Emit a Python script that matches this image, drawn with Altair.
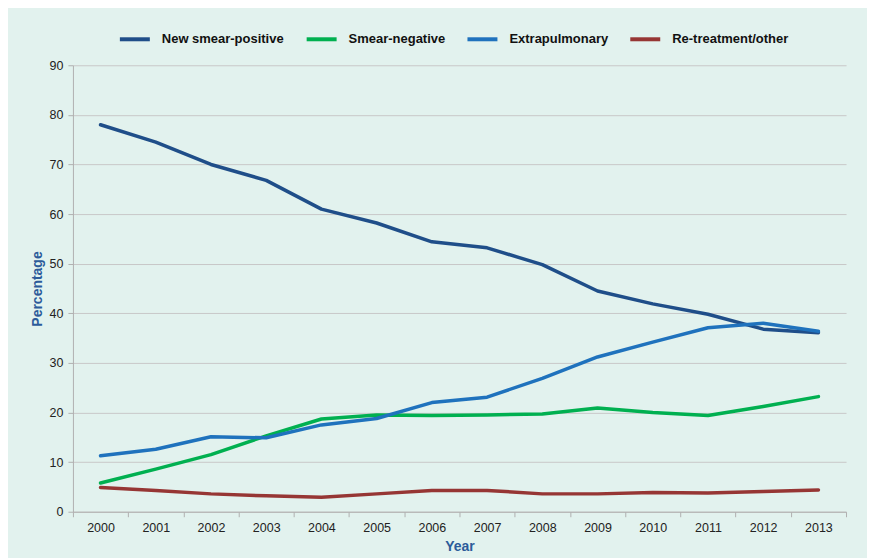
import altair as alt
import pandas as pd

years = [2000, 2001, 2002, 2003, 2004, 2005, 2006, 2007, 2008, 2009, 2010, 2011, 2012, 2013]
series_names = ["New smear-positive", "Smear-negative", "Extrapulmonary", "Re-treatment/other"]
new_smear_positive = [78.0, 74.5, 70.0, 66.8, 61.0, 58.2, 54.4, 53.2, 49.8, 44.5, 41.9, 39.8, 36.8, 36.1]
smear_negative = [5.8, 8.6, 11.5, 15.3, 18.7, 19.5, 19.4, 19.5, 19.7, 20.9, 20.0, 19.4, 21.2, 23.2]
extrapulmonary = [11.3, 12.6, 15.1, 14.9, 17.5, 18.8, 22.0, 23.1, 26.9, 31.2, 34.2, 37.1, 38.0, 36.4]
retreatment = [4.9, 4.3, 3.6, 3.2, 2.9, 3.6, 4.3, 4.3, 3.6, 3.6, 3.9, 3.8, 4.1, 4.4]
colors = ["#1f4e89", "#00b050", "#1f72bd", "#963634"]

rows = []
for name, vals in zip(series_names, [new_smear_positive, smear_negative, extrapulmonary, retreatment]):
    for y, v in zip(years, vals):
        rows.append({"Year": str(y), "Series": name, "Value": v})
df = pd.DataFrame(rows)

font = "Liberation Sans"
title_color = "#2c5b9a"

chart = alt.Chart(df).mark_line(strokeWidth=3.5, strokeCap="round", strokeJoin="round").encode(
    x=alt.X("Year:O", bandPosition=0.5,
            scale=alt.Scale(type="band", paddingInner=0, paddingOuter=0),
            axis=alt.Axis(title="Year", labelAngle=0, tickBand="extent", grid=False,
                          domainColor="#b0b0b0", tickColor="#b0b0b0", tickSize=5,
                          labelFont=font, labelFontSize=12.5, labelColor="#222222", labelPadding=5,
                          titleFont=font, titleFontSize=14, titleFontWeight="bold",
                          titleColor=title_color, titlePadding=5)),
    y=alt.Y("Value:Q", scale=alt.Scale(domain=[0, 90]),
            axis=alt.Axis(title="Percentage", values=list(range(0, 91, 10)),
                          grid=True, gridColor="#c8c8c8", domainColor="#b0b0b0",
                          tickColor="#b0b0b0", tickSize=5,
                          labelFont=font, labelFontSize=12.5, labelColor="#222222", labelPadding=5,
                          titleFont=font, titleFontSize=14, titleFontWeight="bold",
                          titleColor=title_color, titlePadding=5)),
    color=alt.Color("Series:N", sort=series_names,
                    scale=alt.Scale(domain=series_names, range=colors),
                    legend=alt.Legend(title=None, orient="none", direction="horizontal",
                                      legendX=45, legendY=-43,
                                      symbolType="stroke", symbolStrokeWidth=4, symbolSize=900,
                                      labelFont=font, labelFontSize=13, labelFontWeight="bold",
                                      labelColor="#111111", columnPadding=14, labelOffset=10)),
    order=alt.Order("Year:O"),
).properties(
    width=774, height=447,
    background="#e2f2ee",
    padding={"left": 22, "top": 14, "right": 20, "bottom": 4},
).configure_view(stroke=None)

chart.save("out.html", embed_options={"renderer": "svg", "actions": False})
